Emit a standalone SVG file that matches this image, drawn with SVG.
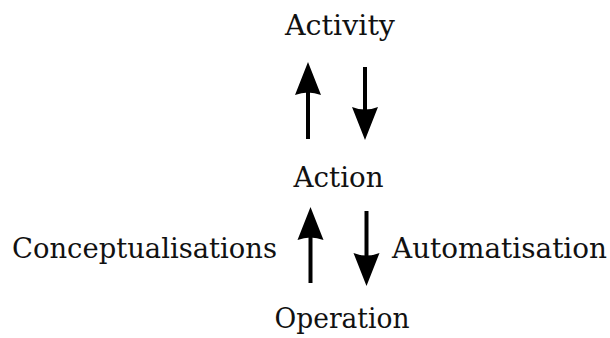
<svg xmlns="http://www.w3.org/2000/svg" width="610" height="338" viewBox="0 0 610 338">
<style>
.lbl{font-family:"DejaVu Serif","Liberation Serif",serif;font-size:27px;fill:#111}
.arr{stroke:#000;stroke-width:4;fill:none}
</style>
<defs>
<marker id="head" markerUnits="userSpaceOnUse" markerWidth="40" markerHeight="30" viewBox="0 -15 36 30" refX="13" refY="0" orient="auto">
<path d="M33,0 L0,-13 Q5,0 0,13 Z" fill="#000"/>
</marker>
</defs>
<rect width="610" height="338" fill="#fff"/>
<g id="activity"><text class="lbl" x="340" y="35" text-anchor="middle" textLength="110" lengthAdjust="spacingAndGlyphs">Activity</text></g>
<g id="action"><text class="lbl" x="338.5" y="187" text-anchor="middle" textLength="90" lengthAdjust="spacingAndGlyphs">Action</text></g>
<g id="operation"><text class="lbl" x="342" y="328" text-anchor="middle" textLength="135" lengthAdjust="spacingAndGlyphs">Operation</text></g>
<g id="conceptualisations"><text class="lbl" x="12" y="258" textLength="265" lengthAdjust="spacingAndGlyphs">Conceptualisations</text></g>
<g id="automatisation"><text class="lbl" x="392" y="258" textLength="215" lengthAdjust="spacingAndGlyphs">Automatisation</text></g>
<g id="connectors">
<line class="arr" x1="308" y1="139" x2="308" y2="82" marker-end="url(#head)"/>
<line class="arr" x1="365" y1="67" x2="365" y2="120" marker-end="url(#head)"/>
<line class="arr" x1="310.5" y1="283" x2="310.5" y2="227" marker-end="url(#head)"/>
<line class="arr" x1="366.5" y1="211" x2="366.5" y2="266" marker-end="url(#head)"/>
</g>
</svg>
